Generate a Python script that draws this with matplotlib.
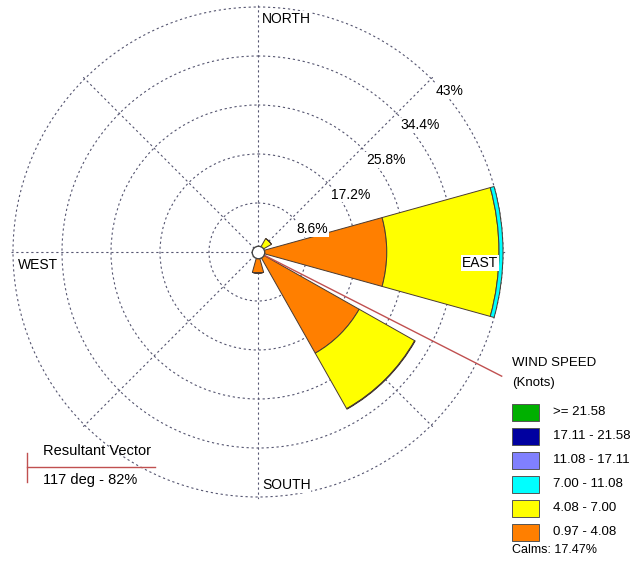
import numpy as np
import matplotlib.pyplot as plt
from matplotlib.patches import Rectangle
from matplotlib.lines import Line2D

plt.rcParams['font.family'] = ['Liberation Sans', 'DejaVu Sans']

# wind rose data (percent), 8 directions
directions = [0, 45, 90, 135, 180, 225, 270, 315]
speed_bins = ['0.97 - 4.08', '4.08 - 7.00', '7.00 - 11.08',
              '11.08 - 17.11', '17.11 - 21.58', '>= 21.58']
bin_colors = ['#ff7f00', '#ffff00', '#00ffff', '#8080ff', '#0000a0', '#00b000']
freq_orange = [0, 0, 22.6, 20.4, 3.7, 0, 0, 0]
freq_yellow = [0, 2.7, 19.7, 11.2, 0, 0, 0, 0]
freq_cyan = [0, 0, 0.7, 0.1, 0, 0, 0, 0]
ring_values = [8.6, 17.2, 25.8, 34.4, 43]
ring_labels = ['8.6%', '17.2%', '25.8%', '34.4%', '43%']
calms = 17.47
resultant_dir = 117
resultant_pct = 82

W, H = 631, 564
fig = plt.figure(figsize=(W / 100, H / 100), dpi=100)

rmax = 43.4
cx, cy = 258, 252  # centre in pixels
R = 245 * rmax / ring_values[-1]
ax = fig.add_axes([(cx - R) / W, 1 - (cy + R) / H, 2 * R / W, 2 * R / H],
                  projection='polar')
ax.set_theta_zero_location('N')
ax.set_theta_direction(-1)
ax.set_ylim(0, rmax)
ax.spines['polar'].set_visible(False)
ax.patch.set_visible(False)
ax.set_xticklabels([])
ax.set_yticklabels([])
ax.set_xticks(np.radians(directions))
ax.set_yticks(ring_values)
ax.grid(True, color='#555570', linestyle=(0, (2, 2.5)), linewidth=0.8)
ax.set_axisbelow(True)

# stacked bars
theta = np.radians(directions)
width = np.radians(31)
bottom = np.zeros(len(directions))
for vals, col in zip([freq_orange, freq_yellow, freq_cyan], bin_colors[:3]):
    vals = np.array(vals)
    ax.bar(theta, vals, width=width, bottom=bottom, color=col,
           edgecolor='#4a3a30', linewidth=0.7, zorder=3)
    bottom += vals

# calm circle
ax.plot([0], [0], marker='o', markersize=9, markerfacecolor='white',
        markeredgecolor='#444444', markeredgewidth=1, zorder=5)

# resultant vector
ax.plot([np.radians(resultant_dir)] * 2, [0, 48], color='#c05050',
        linewidth=1, clip_on=False, zorder=4)

# ring labels
for rv, lab in zip(ring_values, ring_labels):
    ax.annotate(lab, xy=(np.pi / 4, rv), xytext=(4, -5),
                textcoords='offset pixels', ha='left', va='top', fontsize=10,
                bbox=dict(facecolor='white', edgecolor='none', pad=0.5),
                zorder=6, annotation_clip=False)


def ftext(x, y, s, **kw):
    fig.text(x / W, 1 - y / H, s, **kw)


# compass labels
ftext(262, 19, 'NORTH', fontsize=10, va='center', ha='left',
      bbox=dict(facecolor='white', edgecolor='none', pad=0.5))
ftext(262, 485, 'SOUTH', fontsize=10, va='center', ha='left',
      bbox=dict(facecolor='white', edgecolor='none', pad=0.5))
ftext(18, 265, 'WEST', fontsize=10, va='center', ha='left',
      bbox=dict(facecolor='white', edgecolor='none', pad=0.5))
ftext(498, 263, 'EAST', fontsize=10, va='center', ha='right', zorder=10,
      bbox=dict(facecolor='white', edgecolor='none', pad=0.5))

# wind speed legend
ftext(512, 363, 'WIND SPEED', fontsize=9.5, va='center', ha='left')
ftext(512, 383, '(Knots)', fontsize=9.5, va='center', ha='left')
for i, (lab, col) in enumerate(zip(speed_bins[::-1], bin_colors[::-1])):
    y = 412 + i * 24
    fig.patches.append(Rectangle((512 / W, 1 - (y + 8.5) / H), 27 / W, 17 / H,
                                 transform=fig.transFigure, facecolor=col,
                                 edgecolor='#555555', linewidth=0.7))
    ftext(553, y, lab, fontsize=9.5, va='center', ha='left')
ftext(512, 550, 'Calms: %.2f%%' % calms, fontsize=9, va='center', ha='left')

# resultant vector legend
fig.add_artist(Line2D([27 / W, 27 / W], [1 - 453 / H, 1 - 482 / H],
                      transform=fig.transFigure, color='#c05050', linewidth=1))
fig.add_artist(Line2D([27 / W, 155 / W], [1 - 467 / H, 1 - 467 / H],
                      transform=fig.transFigure, color='#c05050', linewidth=1))
ftext(43, 451, 'Resultant Vector', fontsize=10.5, va='center', ha='left')
ftext(43, 480, '%d deg - %d%%' % (resultant_dir, resultant_pct),
      fontsize=10.5, va='center', ha='left')

fig.savefig('out.png', dpi=100)
